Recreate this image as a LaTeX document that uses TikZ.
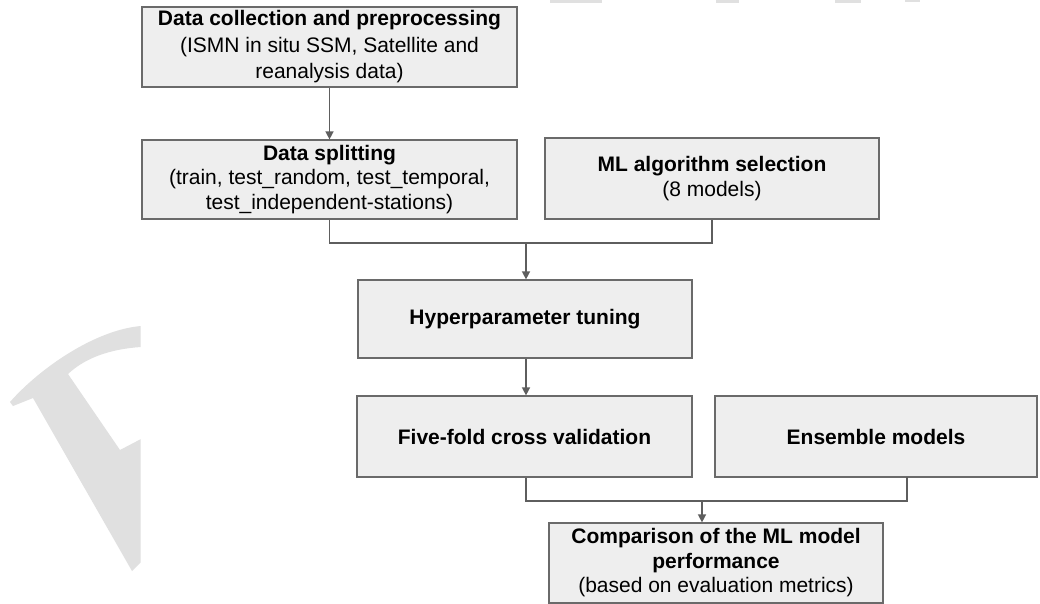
\documentclass[tikz,border=0pt]{standalone}
\usepackage{fontspec}
\setmainfont{Liberation Sans}
\usetikzlibrary{arrows.meta}
\definecolor{boxfill}{HTML}{EEEEEE}
\definecolor{boxline}{HTML}{6A6A6A}
\definecolor{linkline}{HTML}{5E5E5E}
\definecolor{wmark}{HTML}{E0E0E0}
\tikzset{
  flowbox/.style={draw=boxline, fill=boxfill, line width=1.2pt, inner sep=0pt,
    align=center, font=\fontsize{21}{24.5}\selectfont},
  link/.style={draw=linkline, line width=1.4pt},
  linkarrow/.style={link, -{Triangle[length=8pt,width=8pt]}}
}
\begin{document}
\begin{tikzpicture}[x=1pt,y=-1pt]
  \useasboundingbox (0,0) rectangle (1040,604);
  \fill[white] (0,0) rectangle (1040,604);

  % faint background watermark
  \begin{scope}
    \clip (0,0) rectangle (140.5,604);
    \fill[wmark] (10,402) .. controls (40,368) and (95,330) .. (141,326)
      -- (141,347) .. controls (110,349) and (85,358) .. (68,374)
      -- (120,450) -- (141,439) -- (141,562) -- (132,571)
      -- (33,398) -- (13,406) -- cycle;
  \end{scope}
  \fill[wmark] (550,0) rectangle (602,3);
  \fill[wmark] (716,0) rectangle (739,3);
  \fill[wmark] (835,0) rectangle (861,3);
  \fill[wmark] (905,0) rectangle (920,2);

  % process boxes
  \node[flowbox, minimum width=375pt, minimum height=80pt,
        font=\fontsize{21}{26.5}\selectfont] (collect) at (329.5,47)
    {\textbf{Data collection and preprocessing}\\(ISMN in situ SSM, Satellite and\\reanalysis data)};
  \node[flowbox, minimum width=375pt, minimum height=79pt] (split) at (329.5,179.5)
    {\textbf{Data splitting}\\(train, test\_random, test\_temporal,\\test\_independent-stations)};
  \node[flowbox, minimum width=334pt, minimum height=81pt] (algo) at (712,178.5)
    {\textbf{ML algorithm selection}\\(8 models)};
  \node[flowbox, minimum width=334pt, minimum height=78pt] (tune) at (525,319)
    {\textbf{Hyperparameter tuning}};
  \node[flowbox, minimum width=335pt, minimum height=81pt] (cv) at (524.5,436.5)
    {\textbf{Five-fold cross validation}};
  \node[flowbox, minimum width=322pt, minimum height=81pt] (ens) at (876,436.5)
    {\textbf{Ensemble models}};
  \node[flowbox, minimum width=334pt, minimum height=80pt] (compare) at (716,563)
    {\textbf{Comparison of the ML model}\\\textbf{performance}\\(based on evaluation metrics)};

  % junction points of the merging connectors
  \coordinate (joinA) at (526,243);
  \coordinate (joinB) at (702,501);
  \coordinate (ensOut) at (907,477);

  % connectors
  \draw[linkarrow] (collect.south) -- (split.north);
  \draw[link] (split.south) |- (joinA) -| (algo.south);
  \draw[linkarrow] (joinA) -- (joinA |- tune.north);
  \draw[linkarrow] (tune.south -| joinA) -- (cv.north -| joinA);
  \draw[link] (cv.south -| joinA) |- (joinB) -| (ensOut);
  \draw[linkarrow] (joinB) -- (joinB |- compare.north);
\end{tikzpicture}
\end{document}
